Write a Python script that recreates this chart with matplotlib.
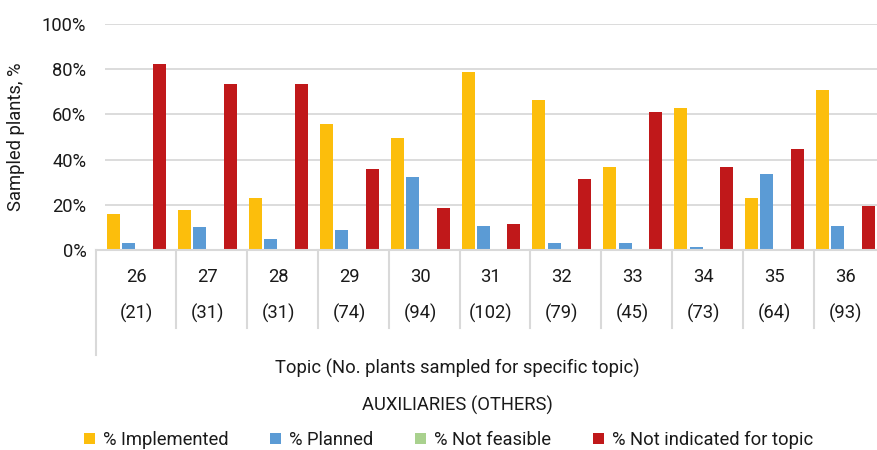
import matplotlib.pyplot as plt
from matplotlib.transforms import blended_transform_factory
import numpy as np

plt.rcParams['font.family'] = ['Roboto', 'DejaVu Sans']

# --- DATA ---
topics = ['26', '27', '28', '29', '30', '31', '32', '33', '34', '35', '36']
n_plants = [21, 31, 31, 74, 94, 102, 79, 45, 73, 64, 93]
series_names = ['% Implemented', '% Planned', '% Not feasible', '% Not indicated for topic']
implemented = [16, 17.7, 23, 55.8, 49.6, 78.8, 66.4, 36.7, 62.8, 23, 70.8]
planned = [3.1, 10.2, 4.9, 8.8, 32.3, 10.6, 3.1, 3.1, 1.3, 33.6, 10.6]
not_feasible = [0, 0, 0, 0, 0, 0, 0, 0, 0, 0, 0]
not_indicated = [82.3, 73.5, 73.5, 35.8, 18.6, 11.5, 31.4, 61, 36.7, 44.7, 19.5]
yticks = [0, 20, 40, 60, 80, 100]

colors = ['#FCBE0C', '#5B9BD5', '#A9D18E', '#C0181A']
GRID = '#D9D9D9'
TXT = '#1a1a1a'
FS = 13.2

fig = plt.figure(figsize=(8.77, 4.5), dpi=100)
W, H = 877, 450
# plot area in pixels: left 105, right 877, top 24, bottom 250
ax = fig.add_axes([105 / W, (H - 250) / H, (877 - 105) / W, (250 - 24) / H])

x = np.arange(len(topics))
pitch, bw = 0.216, 0.183
all_series = [implemented, planned, not_feasible, not_indicated]
for k, (vals, col, name) in enumerate(zip(all_series, colors, series_names)):
    ax.bar(x + (k - 1.5) * pitch, np.array(vals) / 100, width=bw, color=col,
           label=name, zorder=3)

ax.set_ylim(0, 1)
ax.set_xlim(-0.444, 10.444)
ax.set_yticks(np.array(yticks) / 100)
ax.set_yticklabels([f'{t}%' for t in yticks], fontsize=FS, color=TXT)
ax.tick_params(axis='y', length=0, pad=13.5)
ax.set_xticks([])
ax.yaxis.grid(True, color=GRID, linewidth=1.3, zorder=0)
for s in ['top', 'right', 'left', 'bottom']:
    ax.spines[s].set_visible(False)

ax.set_ylabel('Sampled plants, %', fontsize=FS, color=TXT)
ax.yaxis.set_label_coords(-0.1036, 0.5)

# multi-level category table under the axis
tr = blended_transform_factory(ax.transData, ax.transAxes)
ax.plot([-0.571, 10.6], [0, 0], color=GRID, lw=1.5, transform=tr, clip_on=False, zorder=4)
ax.plot([-0.571, -0.571], [0, -0.465], color=GRID, lw=1.5, transform=tr, clip_on=False)
for i in range(len(topics) - 1):
    ax.plot([i + 0.556, i + 0.556], [0, -0.345], color=GRID, lw=1.5,
            transform=tr, clip_on=False)
for i, (t, n) in enumerate(zip(topics, n_plants)):
    ax.text(i, -0.118, t, transform=tr, ha='center', va='center', fontsize=FS, color=TXT)
    ax.text(i, -0.28, f'({n})', transform=tr, ha='center', va='center', fontsize=FS, color=TXT)

ax.text(0.457, -0.522, 'Topic (No. plants sampled for specific topic)', transform=ax.transAxes,
        ha='center', va='center', fontsize=FS, color=TXT)
ax.text(0.457, -0.686, 'AUXILIARIES (OTHERS)', transform=ax.transAxes,
        ha='center', va='center', fontsize=FS, color=TXT)

px = FS * 100 / 72
fig.legend(loc='center left', bbox_to_anchor=(84 / W, (H - 440) / H), ncol=4, frameon=False,
           fontsize=FS, borderpad=0, handlelength=11 / px, handleheight=11 / px,
           handletextpad=7.7 / px, columnspacing=42 / px, labelcolor=TXT,
           borderaxespad=0)

fig.savefig('out.png', dpi=100)
